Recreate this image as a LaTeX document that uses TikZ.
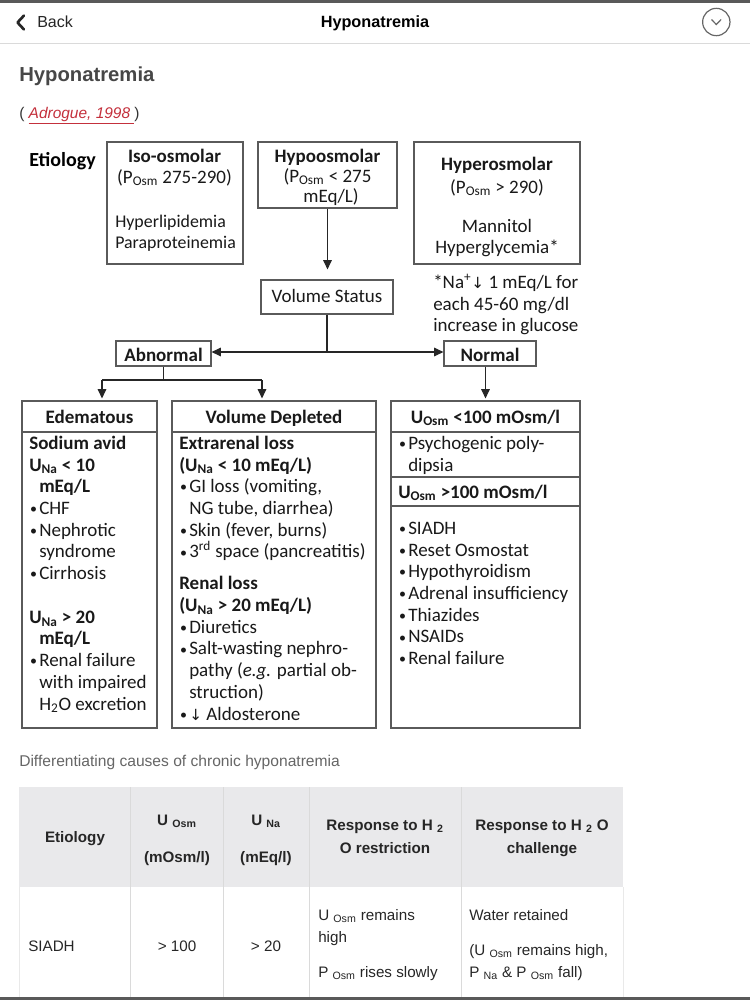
\documentclass[tikz,border=0pt]{standalone}
\usepackage{fontspec}
\setmainfont{Liberation Sans}
\newfontfamily\calib{Carlito}
\newfontfamily\dejav{DejaVu Sans}
\usetikzlibrary{arrows.meta,fit}
\definecolor{boxc}{HTML}{5A5A5A}
\definecolor{hdrbg}{HTML}{E9E9EB}
\definecolor{sepc}{HTML}{DADADA}
\definecolor{linkc}{HTML}{C4303C}
\definecolor{titlec}{HTML}{474747}
\definecolor{capc}{HTML}{666666}
\newcommand\bl{\makebox[7.5pt][l]{\hspace{0.6pt}\raisebox{0.6pt}{\fontsize{10.5}{10}\selectfont\textbullet}}}
\newcommand\ind{\hspace*{7.5pt}}
\newcommand\fs{\rule{0pt}{12pt}}
\newcommand\darr{{\dejav\fontsize{11.5}{12}\selectfont ↓}}
\begin{document}
\begin{tikzpicture}[x=0.75pt,y=-0.75pt,
  box/.style={draw=boxc,line width=0.9pt,inner sep=0pt},
  ln/.style={draw=black!85,line width=0.8pt},
  arr/.style={ln,-{Triangle[length=7pt,width=6.5pt]}},
  cal/.style={font={\calib\fontsize{14.25}{16.3}\selectfont},inner sep=0pt,text=black!90},
  calb/.style={font={\calib\bfseries\fontsize{14.25}{16.3}\selectfont},inner sep=0pt,text=black!90},
  tb/.style={font={\fontsize{11.4}{13}\selectfont},inner sep=0pt,text=black!85},
  tbb/.style={font={\bfseries\fontsize{11.4}{13}\selectfont},inner sep=0pt,text=black!85}]
\useasboundingbox (0,0) rectangle (750,1000);
\fill[white] (0,0) rectangle (750,1000);
% top bar
\fill[black!65] (0,0) rectangle (750,2.5);
\draw[sepc,line width=0.75pt] (0,43.5) -- (750,43.5);
\draw[black!85,line width=2pt,line cap=round,line join=round] (24,15.5) -- (17.5,22.5) -- (24,29.5);
\node[anchor=base west,font={\fontsize{12}{14}\selectfont},text=black!85,inner sep=0pt] (back) at (37,27.5) {Back};
\node[anchor=base,font={\bfseries\fontsize{12.2}{14}\selectfont},inner sep=0pt] (htitle) at (375,27) {Hyponatremia};
\node[circle,draw=black!60,line width=0.9pt,minimum size=20.5pt,inner sep=0pt] (menu) at (716.3,22) {};
\draw[black!60,line width=0.9pt] (711.5,19.5) -- (716.3,24.5) -- (721.1,19.5);
% title
\node[anchor=base west,font={\bfseries\fontsize{15.2}{18}\selectfont},text=titlec,inner sep=0pt] (title) at (19,81.7) {Hyponatremia};
\node[anchor=base west,font={\fontsize{11.6}{14}\selectfont},text=black!80,inner sep=0pt] (cite) at (19,118) {( \textcolor{linkc}{\underline{\textit{Adrogue, 1998}\ }})};
% diagram
\node[anchor=base west,font={\calib\bfseries\fontsize{15}{18}\selectfont},inner sep=0pt] (etio) at (29,166.5) {Etiology};
\node[box,fit={(107,142) (243,264)}] (iso) {};
\node[box,fit={(258,142) (397,208)}] (hypo) {};
\node[box,fit={(414,142) (580,264)}] (hyper) {};
\node[box,fit={(261,280) (393,314)}] (vs) {};
\node[box,fit={(116,341) (211,366)}] (abn) {};
\node[box,fit={(444,341) (536,366)}] (nor) {};
\node[box,fit={(22,401) (157,728)}] (ede) {};
\node[box,fit={(172,401) (376,728)}] (vd) {};
\node[box,fit={(391,401) (580,728)}] (rb) {};
\draw[boxc,line width=0.9pt] (22,432) -- (157,432);
\draw[boxc,line width=0.9pt] (172,432) -- (376,432);
\draw[boxc,line width=0.9pt] (391,432) -- (580,432);
\draw[boxc,line width=0.9pt] (391,477) -- (580,477);
\draw[boxc,line width=0.9pt] (391,506) -- (580,506);
% top boxes text
\node[calb,anchor=base] (isoT) at (174.5,162) {Iso-osmolar};
\node[cal,anchor=base] (isoP) at (174.5,183) {(P\textsubscript{Osm} 275-290)};
\node[cal,anchor=base west,font={\calib\fontsize{13.4}{15.75}\selectfont}] (isoL1) at (115,227) {Hyperlipidemia};
\node[cal,anchor=base west,font={\calib\fontsize{13.4}{15.75}\selectfont}] (isoL2) at (115,248) {Paraproteinemia};
\node[calb,anchor=base] (hypoT) at (327.5,162) {Hypoosmolar};
\node[cal,anchor=base] (hypoP) at (327.5,182) {(P\textsubscript{Osm} < 275};
\node[cal,anchor=base] (hypoU) at (331,202) {mEq/L)};
\node[calb,anchor=base] (hypT) at (497,170) {Hyperosmolar};
\node[cal,anchor=base] (hypP) at (497,193) {(P\textsubscript{Osm} > 290)};
\node[cal,anchor=base] (hypM) at (497,232) {Mannitol};
\node[cal,anchor=base] (hypG) at (497,253) {Hyperglycemia*};
\node[cal,anchor=north west,align=left] (note) at (433,272) {\fs *Na\textsuperscript{+}\darr\ 1 mEq/L for\\each 45-60 mg/dl\\increase in glucose};
\node[cal,anchor=base] (vsT) at (327,302.5) {Volume Status};
\node[calb,anchor=base] (abnT) at (163.5,361) {Abnormal};
\node[calb,anchor=base] (norT) at (490,361) {Normal};
% connectors
\draw[arr,shorten >=7.5pt] (hypo.south) -- (hypo.south |- vs.north);
\coordinate (jn) at (327,352);
\draw[ln] (vs.south) -- (jn);
\draw[arr] (jn) -- (abn.east |- jn);
\draw[arr] (jn) -- (nor.west |- jn);
\coordinate (ja) at (163.5,380);
\coordinate (jl) at (102,380);
\coordinate (jr) at (262,380);
\draw[ln] (abn.south) -- (ja);
\draw[ln] (jl) -- (jr);
\draw[arr,shorten >=1.5pt] (jl) -- (jl |- ede.north);
\draw[arr,shorten >=1.5pt] (jr) -- (jr |- vd.north);
\draw[arr,shorten >=1.5pt] (nor.south -| rb.north) -- (rb.north);
% lower boxes
\node[calb,anchor=base] (edeT) at (89.5,423) {Edematous};
\node[calb,anchor=base] (vdT) at (274,423) {Volume Depleted};
\node[calb,anchor=base] (rbT) at (485.5,423) {U\textsubscript{Osm} <100 mOsm/l};
\node[cal,anchor=north west,align=left] (edeL) at (29,433) {\fs\textbf{Sodium avid}\\\textbf{U\textsubscript{Na} < 10}\\\ind\textbf{mEq/L}\\\bl CHF\\\bl Nephrotic\\\ind syndrome\\\bl Cirrhosis\\[16.3pt]\textbf{U\textsubscript{Na} > 20}\\\ind\textbf{mEq/L}\\\bl Renal failure\\\ind with impaired\\\ind H\textsubscript{2}O excretion};
\node[cal,anchor=north west,align=left] (vdL) at (179,433) {\fs\textbf{Extrarenal loss}\\\textbf{(U\textsubscript{Na} < 10 mEq/L)}\\\bl GI loss (vomiting,\\\ind NG tube, diarrhea)\\\bl Skin (fever, burns)\\\bl 3\textsuperscript{rd} space (pancreatitis)\\[7.5pt]\textbf{Renal loss}\\\textbf{(U\textsubscript{Na} > 20 mEq/L)}\\\bl Diuretics\\\bl Salt-wasting nephro-\\\ind pathy (\textit{e.g.} partial ob-\\\ind struction)\\\bl\darr\ Aldosterone};
\node[cal,anchor=north west,align=left] (rbA) at (398,433) {\fs\bl Psychogenic poly-\\\ind dipsia};
\node[calb,anchor=base west] (rbH) at (398,498) {U\textsubscript{Osm} >100 mOsm/l};
\node[cal,anchor=north west,align=left] (rbB) at (398,518) {\fs\bl SIADH\\\bl Reset Osmostat\\\bl Hypothyroidism\\\bl Adrenal insufficiency\\\bl Thiazides\\\bl NSAIDs\\\bl Renal failure};
% caption
\node[anchor=base west,font={\fontsize{11.7}{14}\selectfont},text=capc,inner sep=0pt] (cap) at (19,766.5) {Differentiating causes of chronic hyponatremia};
% table
\fill[hdrbg] (19,787) rectangle (623,887);
\foreach \x in {130,223,309,461} \draw[sepc,line width=0.75pt] (\x,787) -- (\x,1000);
\draw[sepc!60,line width=0.75pt] (19,887) -- (19,1000);
\draw[sepc!60,line width=0.75pt] (623,887) -- (623,1000);
\node[tbb,anchor=base] (h1) at (75,842) {Etiology};
\node[tbb,anchor=base] (h2a) at (177,825) {U \textsubscript{Osm}};
\node[tbb,anchor=base] (h2b) at (177,862) {(mOsm/l)};
\node[tbb,anchor=base] (h3a) at (266,825) {U \textsubscript{Na}};
\node[tbb,anchor=base] (h3b) at (266,862) {(mEq/l)};
\node[tbb,anchor=base] (h4a) at (385,830) {Response to H \textsubscript{2}};
\node[tbb,anchor=base] (h4b) at (385,853) {O restriction};
\node[tbb,anchor=base] (h5a) at (542,830) {Response to H \textsubscript{2} O};
\node[tbb,anchor=base] (h5b) at (542,853) {challenge};
\node[tb,anchor=base west] (b1) at (28,951) {SIADH};
\node[tb,anchor=base] (b2) at (177,951) {> 100};
\node[tb,anchor=base] (b3) at (266,951) {> 20};
\node[tb,anchor=base west] (b4a) at (318,920) {U \textsubscript{Osm} remains};
\node[tb,anchor=base west] (b4b) at (318,942) {high};
\node[tb,anchor=base west] (b4c) at (318,977) {P \textsubscript{Osm} rises slowly};
\node[tb,anchor=base west] (b5a) at (469,920) {Water retained};
\node[tb,anchor=base west] (b5b) at (469,955) {(U \textsubscript{Osm} remains high,};
\node[tb,anchor=base west] (b5c) at (469,977) {P \textsubscript{Na} \& P \textsubscript{Osm} fall)};
\fill[black!65] (0,997) rectangle (750,1000);
\end{tikzpicture}
\end{document}
